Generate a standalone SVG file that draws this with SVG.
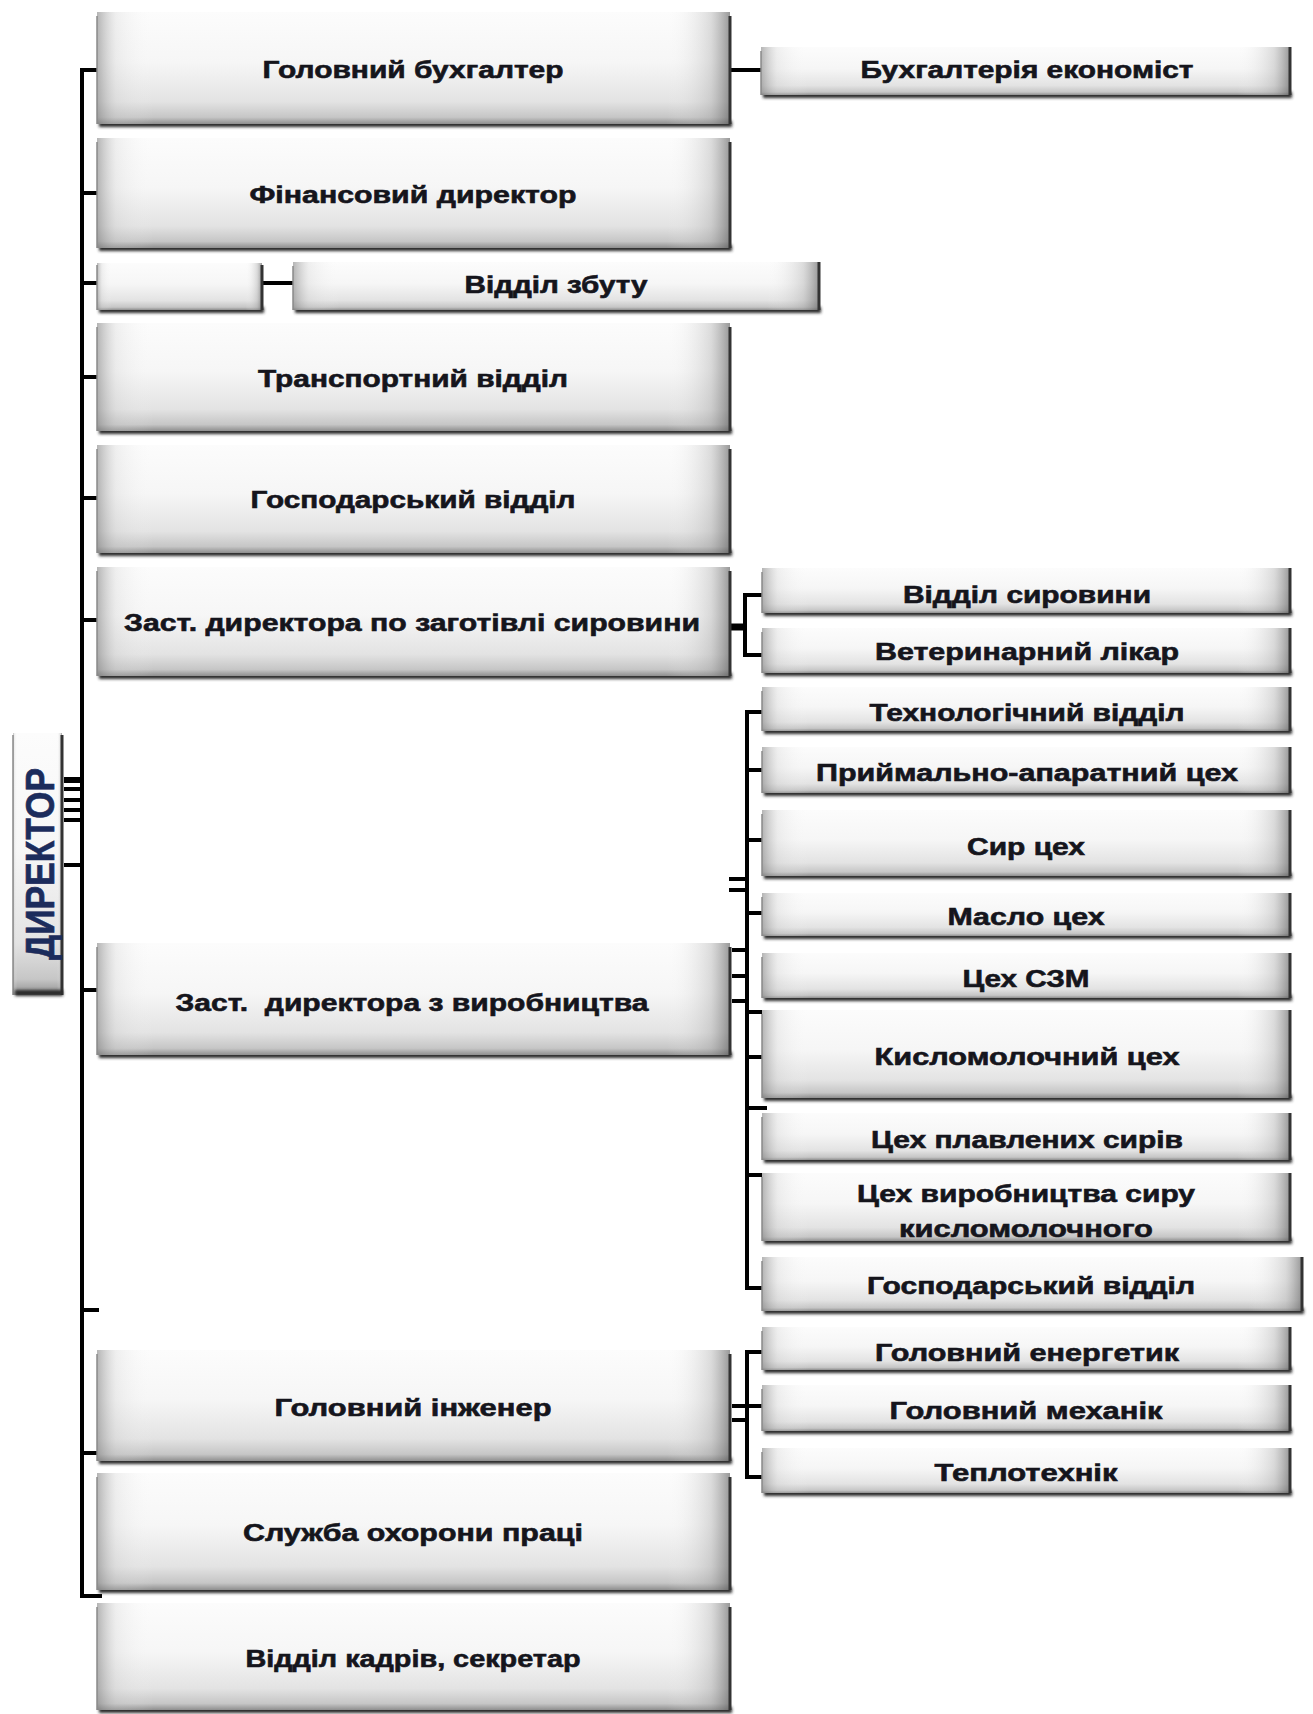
<svg xmlns="http://www.w3.org/2000/svg" width="1313" height="1714" viewBox="0 0 1313 1714">
<style>
.t{font-family:"Liberation Sans",Arial,sans-serif;font-weight:bold;font-size:24px;fill:#15151c;stroke:#15151c;stroke-width:0.6;text-anchor:middle}
.bx{fill:url(#vg)}
.bh{fill:url(#hg)}
.sh{fill:#2b2b2b;filter:url(#bl)}
.re{stroke:#333;stroke-width:3}
.le{stroke:#8a8a8a;stroke-width:1.5}
.c{fill:none;stroke:#000;stroke-width:4;stroke-linecap:butt}
</style>
<defs>
<linearGradient id="vg" x1="0" y1="0" x2="0" y2="1">
<stop offset="0" stop-color="#fcfcfc"/>
<stop offset="0.45" stop-color="#f6f6f6"/>
<stop offset="0.8" stop-color="#e3e3e3"/>
<stop offset="0.94" stop-color="#c6c6c6"/>
<stop offset="1" stop-color="#8e8e8e"/>
</linearGradient>
<linearGradient id="hg" x1="0" y1="0" x2="1" y2="0">
<stop offset="0" stop-color="#7a7a7a" stop-opacity="0.55"/>
<stop offset="0.03" stop-color="#c8c8c8" stop-opacity="0.25"/>
<stop offset="0.09" stop-color="#ffffff" stop-opacity="0"/>
<stop offset="0.9" stop-color="#ffffff" stop-opacity="0"/>
<stop offset="0.97" stop-color="#a0a0a0" stop-opacity="0.35"/>
<stop offset="1" stop-color="#555" stop-opacity="0.6"/>
</linearGradient>
<filter id="bl" x="-5%" y="-50%" width="110%" height="200%"><feGaussianBlur stdDeviation="1.4"/></filter>
</defs>
<rect width="1313" height="1714" fill="#fff"/>

<g id="director">
<rect x="13" y="733" width="49" height="262" class="bx"/>
<rect x="13" y="733" width="49" height="262" class="bh"/>
<line x1="13" y1="735" x2="13" y2="995" class="le"/>
<line x1="62" y1="735" x2="62" y2="995" class="re"/>
<rect x="15" y="990" width="48" height="6" class="sh"/>
<text x="0" y="0" transform="translate(54,864) rotate(-90)" style="font-family:'Liberation Sans',Arial,sans-serif;font-weight:bold;font-size:40px;fill:#1c2c5c;stroke:#1c2c5c;stroke-width:0.6;text-anchor:middle" textLength="192" lengthAdjust="spacingAndGlyphs">ДИРЕКТОР</text>
</g>

<g id="connectors">
<path class="c" d="M97,70 H82 V1596 H102"/>
<path class="c" d="M82,193 H97 M82,283 H97 M82,377 H97 M82,498 H97 M82,620 H97 M82,990 H97 M82,1310 H99 M82,1453 H97"/>
<path class="c" d="M64,780 H82 M64,789 H82 M64,800 H82 M64,810 H82 M64,820 H82 M64,865 H82"/>
<line x1="64" y1="780" x2="82" y2="780" stroke="#000" stroke-width="6"/>
<path class="c" d="M730,70 H761"/>
<path class="c" d="M262,283 H293"/>
<path class="c" d="M762,595 H745 V655 H762"/>
<line x1="730" y1="627" x2="747" y2="627" stroke="#000" stroke-width="7"/>
<path class="c" d="M762,712 H747 V1288 H762"/>
<path class="c" d="M747,770 H762 M747,840 H762 M747,913 H762 M747,1012 H762 M747,1057 H762 M747,1108 H767 M747,1175 H762"/>
<path class="c" d="M729,879 H747 M729,890 H747 M732,950 H747 M732,976 H747 M732,1001 H747"/>
<path class="c" d="M762,1352 H747 V1477 H762"/>
<path class="c" d="M732,1406 H762 M732,1420 H747"/>
</g>

<g id="n1">
<rect x="99" y="121" width="633" height="6" class="sh"/>
<rect x="97" y="12" width="633" height="112" class="bx"/><rect x="97" y="12" width="633" height="112" class="bh"/>
<line x1="97" y1="16" x2="97" y2="124" class="le"/><line x1="730" y1="16" x2="730" y2="124" class="re"/>
<text class="t" x="413" y="78" textLength="301" lengthAdjust="spacingAndGlyphs">Головний бухгалтер</text>
</g>
<g id="n2">
<rect x="99" y="245" width="633" height="6" class="sh"/>
<rect x="97" y="138" width="633" height="110" class="bx"/><rect x="97" y="138" width="633" height="110" class="bh"/>
<line x1="97" y1="142" x2="97" y2="248" class="le"/><line x1="730" y1="142" x2="730" y2="248" class="re"/>
<text class="t" x="413" y="203" textLength="327" lengthAdjust="spacingAndGlyphs">Фінансовий директор</text>
</g>
<g id="n3">
<rect x="99" y="307" width="165" height="6" class="sh"/>
<rect x="97" y="263" width="165" height="47" class="bx"/><rect x="97" y="263" width="165" height="47" class="bh"/>
<line x1="97" y1="265" x2="97" y2="310" class="le"/><line x1="262" y1="265" x2="262" y2="310" class="re"/>
</g>
<g id="n4">
<rect x="295" y="307" width="526" height="6" class="sh"/>
<rect x="293" y="262" width="526" height="48" class="bx"/><rect x="293" y="262" width="526" height="48" class="bh"/>
<line x1="293" y1="266" x2="293" y2="310" class="le"/><line x1="819" y1="262" x2="819" y2="310" class="re"/>
<text class="t" x="556" y="293" textLength="183" lengthAdjust="spacingAndGlyphs">Відділ збуту</text>
</g>
<g id="n5">
<rect x="99" y="428" width="633" height="6" class="sh"/>
<rect x="97" y="323" width="633" height="108" class="bx"/><rect x="97" y="323" width="633" height="108" class="bh"/>
<line x1="97" y1="327" x2="97" y2="431" class="le"/><line x1="730" y1="327" x2="730" y2="431" class="re"/>
<text class="t" x="413" y="387" textLength="310" lengthAdjust="spacingAndGlyphs">Транспортний відділ</text>
</g>
<g id="n6">
<rect x="99" y="550" width="633" height="6" class="sh"/>
<rect x="97" y="445" width="633" height="108" class="bx"/><rect x="97" y="445" width="633" height="108" class="bh"/>
<line x1="97" y1="449" x2="97" y2="553" class="le"/><line x1="730" y1="449" x2="730" y2="553" class="re"/>
<text class="t" x="413" y="508" textLength="325" lengthAdjust="spacingAndGlyphs">Господарський відділ</text>
</g>
<g id="n7">
<rect x="99" y="673" width="633" height="6" class="sh"/>
<rect x="97" y="567" width="633" height="109" class="bx"/><rect x="97" y="567" width="633" height="109" class="bh"/>
<line x1="97" y1="571" x2="97" y2="676" class="le"/><line x1="730" y1="571" x2="730" y2="676" class="re"/>
<text class="t" x="412" y="631" textLength="576" lengthAdjust="spacingAndGlyphs">Заст. директора по заготівлі сировини</text>
</g>
<g id="n8">
<rect x="99" y="1052" width="633" height="6" class="sh"/>
<rect x="97" y="943" width="633" height="112" class="bx"/><rect x="97" y="943" width="633" height="112" class="bh"/>
<line x1="97" y1="947" x2="97" y2="1055" class="le"/><line x1="730" y1="947" x2="730" y2="1055" class="re"/>
<text class="t" x="412" y="1011" textLength="473" lengthAdjust="spacingAndGlyphs" xml:space="preserve">Заст.  директора з виробництва</text>
</g>
<g id="n9">
<rect x="99" y="1458" width="633" height="6" class="sh"/>
<rect x="97" y="1350" width="633" height="111" class="bx"/><rect x="97" y="1350" width="633" height="111" class="bh"/>
<line x1="97" y1="1354" x2="97" y2="1461" class="le"/><line x1="730" y1="1354" x2="730" y2="1461" class="re"/>
<text class="t" x="413" y="1416" textLength="277" lengthAdjust="spacingAndGlyphs">Головний інженер</text>
</g>
<g id="n10">
<rect x="99" y="1587" width="633" height="6" class="sh"/>
<rect x="97" y="1473" width="633" height="117" class="bx"/><rect x="97" y="1473" width="633" height="117" class="bh"/>
<line x1="97" y1="1477" x2="97" y2="1590" class="le"/><line x1="730" y1="1477" x2="730" y2="1590" class="re"/>
<text class="t" x="413" y="1541" textLength="340" lengthAdjust="spacingAndGlyphs">Служба охорони праці</text>
</g>
<g id="n11">
<rect x="99" y="1707" width="633" height="6" class="sh"/>
<rect x="97" y="1603" width="633" height="107" class="bx"/><rect x="97" y="1603" width="633" height="107" class="bh"/>
<line x1="97" y1="1607" x2="97" y2="1710" class="le"/><line x1="730" y1="1607" x2="730" y2="1710" class="re"/>
<text class="t" x="413" y="1667" textLength="335" lengthAdjust="spacingAndGlyphs">Відділ кадрів, секретар</text>
</g>

<g id="r1">
<rect x="763" y="92" width="529" height="6" class="sh"/>
<rect x="761" y="47" width="529" height="48" class="bx"/><rect x="761" y="47" width="529" height="48" class="bh"/>
<line x1="761" y1="51" x2="761" y2="95" class="le"/><line x1="1290" y1="47" x2="1290" y2="95" class="re"/>
<text class="t" x="1027" y="78" textLength="333" lengthAdjust="spacingAndGlyphs">Бухгалтерія економіст</text>
</g>
<g id="r2">
<rect x="764" y="610" width="528" height="6" class="sh"/>
<rect x="762" y="568" width="528" height="45" class="bx"/><rect x="762" y="568" width="528" height="45" class="bh"/>
<line x1="762" y1="572" x2="762" y2="613" class="le"/><line x1="1290" y1="568" x2="1290" y2="613" class="re"/>
<text class="t" x="1027" y="603" textLength="248" lengthAdjust="spacingAndGlyphs">Відділ сировини</text>
</g>
<g id="r3">
<rect x="764" y="670" width="528" height="6" class="sh"/>
<rect x="762" y="628" width="528" height="45" class="bx"/><rect x="762" y="628" width="528" height="45" class="bh"/>
<line x1="762" y1="632" x2="762" y2="673" class="le"/><line x1="1290" y1="628" x2="1290" y2="673" class="re"/>
<text class="t" x="1027" y="660" textLength="304" lengthAdjust="spacingAndGlyphs">Ветеринарний лікар</text>
</g>
<g id="r4">
<rect x="764" y="728" width="528" height="6" class="sh"/>
<rect x="762" y="687" width="528" height="44" class="bx"/><rect x="762" y="687" width="528" height="44" class="bh"/>
<line x1="762" y1="691" x2="762" y2="731" class="le"/><line x1="1290" y1="687" x2="1290" y2="731" class="re"/>
<text class="t" x="1027" y="721" textLength="315" lengthAdjust="spacingAndGlyphs">Технологічний відділ</text>
</g>
<g id="r5">
<rect x="764" y="790" width="528" height="6" class="sh"/>
<rect x="762" y="747" width="528" height="46" class="bx"/><rect x="762" y="747" width="528" height="46" class="bh"/>
<line x1="762" y1="751" x2="762" y2="793" class="le"/><line x1="1290" y1="747" x2="1290" y2="793" class="re"/>
<text class="t" x="1027" y="781" textLength="422" lengthAdjust="spacingAndGlyphs">Приймально-апаратний цех</text>
</g>
<g id="r6">
<rect x="764" y="873" width="528" height="6" class="sh"/>
<rect x="762" y="810" width="528" height="66" class="bx"/><rect x="762" y="810" width="528" height="66" class="bh"/>
<line x1="762" y1="814" x2="762" y2="876" class="le"/><line x1="1290" y1="810" x2="1290" y2="876" class="re"/>
<text class="t" x="1026" y="855" textLength="118" lengthAdjust="spacingAndGlyphs">Сир цех</text>
</g>
<g id="r7">
<rect x="764" y="933" width="528" height="6" class="sh"/>
<rect x="762" y="893" width="528" height="43" class="bx"/><rect x="762" y="893" width="528" height="43" class="bh"/>
<line x1="762" y1="897" x2="762" y2="936" class="le"/><line x1="1290" y1="893" x2="1290" y2="936" class="re"/>
<text class="t" x="1026" y="925" textLength="157" lengthAdjust="spacingAndGlyphs">Масло цех</text>
</g>
<g id="r8">
<rect x="764" y="995" width="528" height="6" class="sh"/>
<rect x="762" y="953" width="528" height="45" class="bx"/><rect x="762" y="953" width="528" height="45" class="bh"/>
<line x1="762" y1="957" x2="762" y2="998" class="le"/><line x1="1290" y1="953" x2="1290" y2="998" class="re"/>
<text class="t" x="1026" y="987" textLength="127" lengthAdjust="spacingAndGlyphs">Цех СЗМ</text>
</g>
<g id="r9">
<rect x="764" y="1095" width="528" height="6" class="sh"/>
<rect x="762" y="1010" width="528" height="88" class="bx"/><rect x="762" y="1010" width="528" height="88" class="bh"/>
<line x1="762" y1="1014" x2="762" y2="1098" class="le"/><line x1="1290" y1="1010" x2="1290" y2="1098" class="re"/>
<text class="t" x="1027" y="1065" textLength="305" lengthAdjust="spacingAndGlyphs">Кисломолочний цех</text>
</g>
<g id="r10">
<rect x="764" y="1157" width="528" height="6" class="sh"/>
<rect x="762" y="1113" width="528" height="47" class="bx"/><rect x="762" y="1113" width="528" height="47" class="bh"/>
<line x1="762" y1="1117" x2="762" y2="1160" class="le"/><line x1="1290" y1="1113" x2="1290" y2="1160" class="re"/>
<text class="t" x="1027" y="1148" textLength="312" lengthAdjust="spacingAndGlyphs">Цех плавлених сирів</text>
</g>
<g id="r11">
<rect x="764" y="1238" width="528" height="6" class="sh"/>
<rect x="762" y="1173" width="528" height="68" class="bx"/><rect x="762" y="1173" width="528" height="68" class="bh"/>
<line x1="762" y1="1177" x2="762" y2="1241" class="le"/><line x1="1290" y1="1173" x2="1290" y2="1241" class="re"/>
<text class="t" x="1026" y="1202" textLength="338" lengthAdjust="spacingAndGlyphs">Цех виробництва сиру</text>
<text class="t" x="1026" y="1237" textLength="254" lengthAdjust="spacingAndGlyphs">кисломолочного</text>
</g>
<g id="r12">
<rect x="764" y="1308" width="540" height="6" class="sh"/>
<rect x="762" y="1257" width="540" height="54" class="bx"/><rect x="762" y="1257" width="540" height="54" class="bh"/>
<line x1="762" y1="1261" x2="762" y2="1311" class="le"/><line x1="1302" y1="1257" x2="1302" y2="1311" class="re"/>
<text class="t" x="1031" y="1294" textLength="328" lengthAdjust="spacingAndGlyphs">Господарський відділ</text>
</g>
<g id="r13">
<rect x="764" y="1367" width="528" height="6" class="sh"/>
<rect x="762" y="1327" width="528" height="43" class="bx"/><rect x="762" y="1327" width="528" height="43" class="bh"/>
<line x1="762" y1="1331" x2="762" y2="1370" class="le"/><line x1="1290" y1="1327" x2="1290" y2="1370" class="re"/>
<text class="t" x="1027" y="1361" textLength="304" lengthAdjust="spacingAndGlyphs">Головний енергетик</text>
</g>
<g id="r14">
<rect x="764" y="1428" width="528" height="6" class="sh"/>
<rect x="762" y="1385" width="528" height="46" class="bx"/><rect x="762" y="1385" width="528" height="46" class="bh"/>
<line x1="762" y1="1389" x2="762" y2="1431" class="le"/><line x1="1290" y1="1385" x2="1290" y2="1431" class="re"/>
<text class="t" x="1026" y="1419" textLength="273" lengthAdjust="spacingAndGlyphs">Головний механік</text>
</g>
<g id="r15">
<rect x="764" y="1490" width="528" height="6" class="sh"/>
<rect x="762" y="1448" width="528" height="45" class="bx"/><rect x="762" y="1448" width="528" height="45" class="bh"/>
<line x1="762" y1="1452" x2="762" y2="1493" class="le"/><line x1="1290" y1="1448" x2="1290" y2="1493" class="re"/>
<text class="t" x="1026" y="1481" textLength="183" lengthAdjust="spacingAndGlyphs">Теплотехнік</text>
</g>
</svg>
